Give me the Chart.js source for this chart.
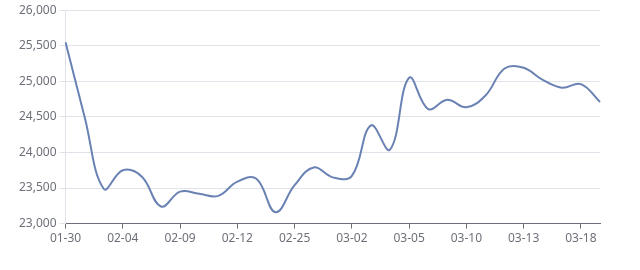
<!DOCTYPE html>
<html>
<head>
<meta charset="utf-8">
<script src="https://cdn.jsdelivr.net/npm/chart.js@4/dist/chart.umd.min.js"></script>
<style>
  html, body { margin: 0; padding: 0; background: #ffffff; }
  #wrap { width: 640px; height: 270px; position: relative; }
</style>
</head>
<body>
<div id="wrap"><canvas id="c" width="640" height="270"></canvas></div>
<script>
const dates = ['01-30','01-31','02-03','02-04','02-05','02-07','02-09','02-10','02-11','02-12',
  '02-18','02-20','02-25','02-26','02-27','03-02','03-03','03-04','03-05','03-06',
  '03-07','03-10','03-11','03-12','03-13','03-14','03-17','03-18','03-19'];
const prices = [25550, 24500, 23490, 23750, 23660, 23240, 23450, 23420, 23390, 23590,
  23630, 23160, 23540, 23790, 23650, 23670, 24380, 24040, 25050, 24610,
  24740, 24635, 24800, 25180, 25190, 25020, 24910, 24960, 24710];
const yTicks = [23000, 23500, 24000, 24500, 25000, 25500, 26000];
const labelEvery = 3;

const axisGray = '#6e7079';
const gridGray = '#e0e3ea';
const fontFamily = '"Noto Sans", "Liberation Sans", sans-serif';

new Chart(document.getElementById('c'), {
  type: 'line',
  data: {
    labels: dates,
    datasets: [{
      data: prices,
      borderColor: '#6a82b3',
      borderWidth: 2,
      pointRadius: 0,
      tension: 0.4,
      fill: false
    }]
  },
  options: {
    responsive: false,
    animation: false,
    layout: { padding: { left: 16, right: 40, top: 10, bottom: 21 } },
    plugins: { legend: { display: false }, tooltip: { enabled: false } },
    scales: {
      x: {
        type: 'category',
        offset: false,
        afterBuildTicks: (scale) => {
          scale.ticks = scale.ticks.filter((t, i) => i % labelEvery === 0);
        },
        grid: { drawOnChartArea: false, drawTicks: true, tickLength: 5, color: axisGray },
        border: { color: axisGray, width: 1 },
        ticks: {
          autoSkip: false, maxRotation: 0, minRotation: 0, padding: 3,
          color: axisGray, font: { family: fontFamily, size: 12 }
        }
      },
      y: {
        min: yTicks[0],
        max: yTicks[yTicks.length - 1],
        afterBuildTicks: (scale) => { scale.ticks = yTicks.map(v => ({ value: v })); },
        grid: { color: gridGray, tickLength: 6, drawTicks: true },
        border: { color: gridGray, width: 1 },
        ticks: {
          padding: 3,
          color: axisGray,
          font: { family: fontFamily, size: 12 },
          callback: (v) => Number(v).toLocaleString('en-US')
        }
      }
    }
  }
});
</script>
</body>
</html>
